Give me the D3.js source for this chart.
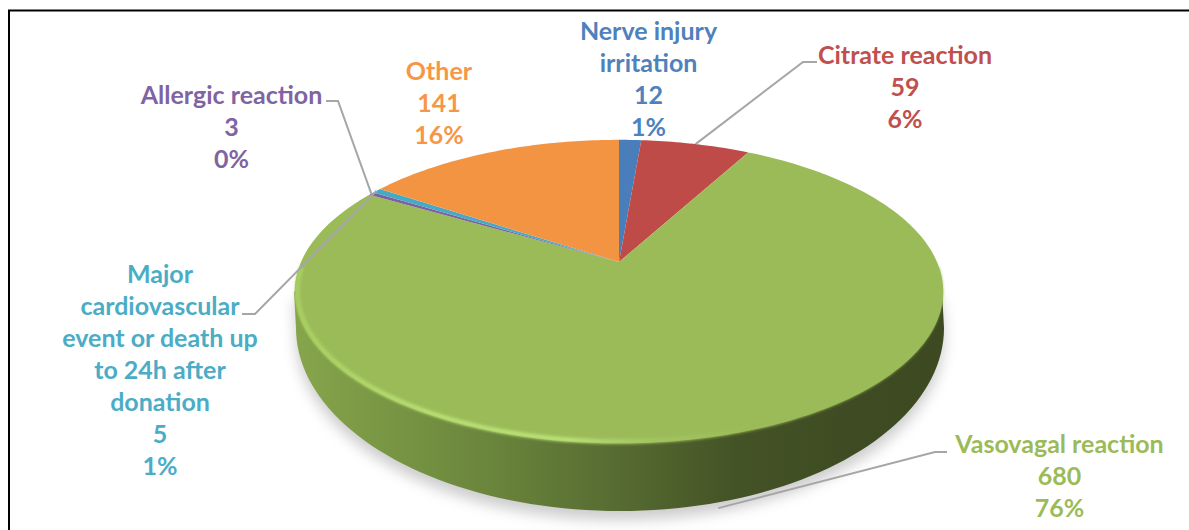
<!DOCTYPE html>
<html>
<head>
<meta charset="utf-8">
<script src="https://cdn.jsdelivr.net/npm/d3@7"></script>
<style>
  html, body { margin: 0; padding: 0; background: #fff; overflow: hidden; }
  text { font-family: Lato, "Open Sans", sans-serif; font-weight: 700; font-size: 25px; text-anchor: middle; }
</style>
</head>
<body>
<div id="parentDiv"></div>
<script>
// chart data, clockwise from 12 o'clock
const categories = ["Nerve injury irritation", "Citrate reaction", "Vasovagal reaction", "Allergic reaction", "Major cardiovascular event or death up to 24h after donation", "Other"];
const values = [12, 59, 680, 3, 5, 141];
const percents = ["1%", "6%", "76%", "0%", "1%", "16%"];
const colors = ["#4a7ebb", "#be4b48", "#9bbb59", "#7d60a0", "#46aac5", "#f39443"];
const labelColors = ["#4f81bd", "#c0504d", "#9bbb59", "#8064a2", "#4bacc6", "#f79646"];

// how each category name wraps in the label
const nameLines = [
  ["Nerve injury", "irritation"],
  ["Citrate reaction"],
  ["Vasovagal reaction"],
  ["Allergic reaction"],
  ["Major", "cardiovascular", "event or death up", "to 24h after", "donation"],
  ["Other"]
];

const width = 1189;
const height = 530;

// label centre and first baseline, and the elbow of the leader line
const labelLayout = [
  { x: 648.5, y: 40 },
  { x: 905, y: 64 },
  { x: 1059.5, y: 453 },
  { x: 231.5, y: 104 },
  { x: 160, y: 283 },
  { x: 439, y: 80 }
];
const leaders = {
  1: { elbow: [803, 62], end: [817, 62] },
  2: { elbow: [935, 452], end: [947, 452], front: true },
  3: { elbow: [338, 101], end: [326, 101] },
  4: { elbow: [255, 314], end: [242, 314] }
};

// PIE GEOMETRY
// the top face is a circle seen in perspective, so the apex sits above the ellipse centre
const apexX = 619, apexY = 262;
const discX = 318, discY = 146, tilt = 0.195;
const project = (a, r = 1) => {
  const u = Math.sin(a) * r, v = -Math.cos(a) * r;
  const w = 1 - tilt * v;
  return [apexX + discX * u / w, apexY + discY * v / w];
};

// outline of the bottom of the wall
const baseX = 324, baseY = 183, baseCx = 620, baseCy = 328;
const rimY = 291.5;

const pie = d3.pie().value(d => d).sort(null);
const slices = pie(values);
const line = d3.line();

function slicePath(d) {
  const n = Math.max(2, Math.ceil((d.endAngle - d.startAngle) * 60));
  const pts = [[apexX, apexY]];
  d3.range(n + 1).forEach(i => pts.push(project(d.startAngle + (d.endAngle - d.startAngle) * i / n)));
  return line(pts) + "Z";
}

// wall outline: down from the left extreme of the top face, round the base, back up on the right
const baseArc = d3.range(180, -1, -2).map(a => {
  const t = a * Math.PI / 180;
  return [baseCx + baseX * Math.cos(t), baseCy + baseY * Math.sin(t)];
});
const wall = [[294, rimY], ...baseArc, [942, rimY]];

// VISUALIZATION
const svg = d3.select("#parentDiv").append("svg")
  .attr("width", width)
  .attr("height", height)
  .style("display", "block");

const defs = svg.append("defs");

defs.append("filter").attr("id", "shadow-blur")
  .attr("x", "-10%").attr("y", "-10%").attr("width", "120%").attr("height", "130%")
  .append("feGaussianBlur").attr("stdDeviation", 7);

defs.append("filter").attr("id", "rim-blur")
  .attr("x", "-5%").attr("y", "-5%").attr("width", "110%").attr("height", "110%")
  .append("feGaussianBlur").attr("stdDeviation", 1.6);

const wallGrad = defs.append("linearGradient").attr("id", "wall-grad")
  .attr("gradientUnits", "userSpaceOnUse")
  .attr("x1", 296).attr("x2", 942).attr("y1", 0).attr("y2", 0);
[[0, "#86a54b"], [0.12, "#7b9845"], [0.3, "#6a853c"], [0.5, "#566b31"], [0.68, "#445326"], [0.85, "#3f4c23"], [1, "#3d4921"]]
  .forEach(s => wallGrad.append("stop").attr("offset", s[0]).attr("stop-color", s[1]));

const rimGrad = defs.append("linearGradient").attr("id", "rim-grad")
  .attr("gradientUnits", "userSpaceOnUse")
  .attr("x1", 296).attr("x2", 942).attr("y1", 0).attr("y2", 0);
[[0, "#a9cf62"], [0.2, "#b9e074"], [0.42, "#bbe278"], [0.55, "#a4c660"], [0.7, "#9bbb59"], [1, "#9bbb59"]]
  .forEach(s => rimGrad.append("stop").attr("offset", s[0]).attr("stop-color", s[1]));

// frame, cut off at the right and bottom of the picture
svg.append("path")
  .attr("d", `M9,${height}V10.5H${width}`)
  .attr("fill", "none")
  .attr("stroke", "#000")
  .attr("stroke-width", 2);

// soft shadow under the disc
svg.append("path")
  .attr("d", line(wall) + "Z")
  .attr("transform", "translate(0,9)")
  .attr("fill", "#000")
  .attr("fill-opacity", 0.2)
  .attr("filter", "url(#shadow-blur)");

// wall
svg.append("path")
  .attr("d", line(wall) + "Z")
  .attr("fill", "url(#wall-grad)");

// top face slices
svg.append("g").selectAll("path")
  .data(slices)
  .join("path")
  .attr("d", slicePath)
  .attr("fill", (d, i) => colors[i]);

// bevel highlight along the front edge of the top face, blurred over the wall edge
const frontRim = d3.range(92, 269, 2).map(a => project(a * Math.PI / 180, 0.992));
svg.append("path")
  .attr("d", line(frontRim))
  .attr("fill", "none")
  .attr("stroke", "url(#rim-grad)")
  .attr("stroke-width", 4.5)
  .attr("filter", "url(#rim-blur)");

// leader lines
const leaderGroup = svg.append("g");
Object.keys(leaders).forEach(i => {
  const l = leaders[i];
  const mid = (slices[i].startAngle + slices[i].endAngle) / 2;
  let start = project(mid);
  if (l.front) start = [start[0] - 6, start[1] + 73];
  leaderGroup.append("path")
    .attr("d", line([start, l.elbow, l.end]))
    .attr("fill", "none")
    .attr("stroke", "#a6a6a6")
    .attr("stroke-width", 2);
});

// labels: name lines, value, percent
const lineStep = 32;
categories.forEach((c, i) => {
  const rows = [...nameLines[i], String(values[i]), percents[i]];
  const label = svg.append("text")
    .attr("fill", labelColors[i])
    .attr("aria-label", c);
  rows.forEach((r, j) => {
    label.append("tspan")
      .attr("x", labelLayout[i].x)
      .attr("y", labelLayout[i].y + j * lineStep)
      .text(r);
  });
});
</script>
</body>
</html>
